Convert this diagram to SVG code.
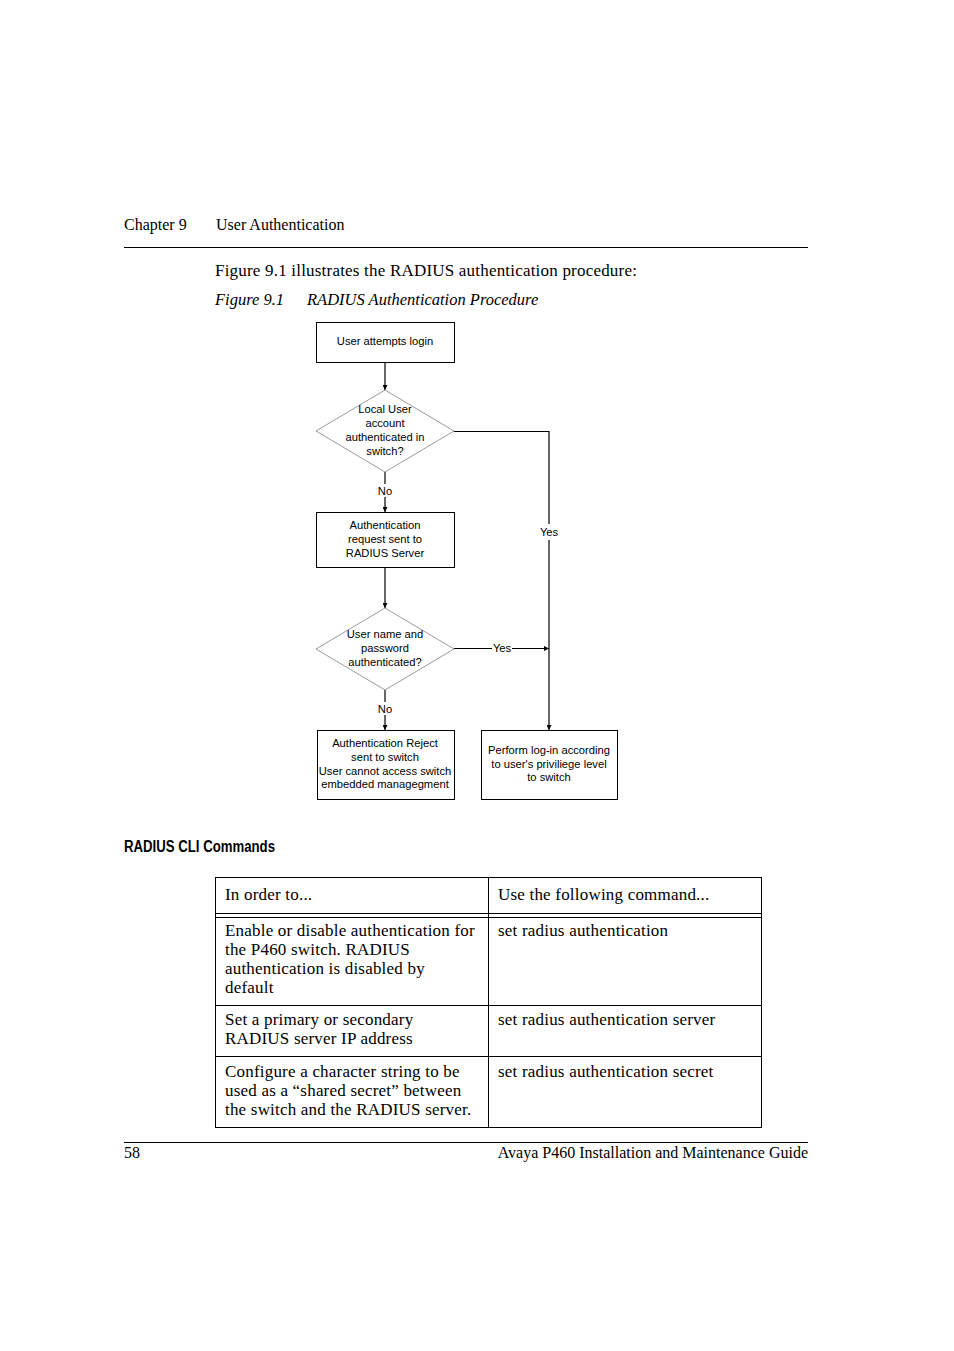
<svg xmlns="http://www.w3.org/2000/svg" width="954" height="1351" viewBox="0 0 954 1351">
<style>
.serif{font-family:"Liberation Serif",serif;font-size:17px;letter-spacing:0.2px;fill:#000}
.it{font-style:italic;font-size:16.5px;letter-spacing:0}
.hf{font-size:16px;letter-spacing:0}
.fc{font-family:"Liberation Sans",Arial,sans-serif;font-size:11.2px;fill:#000;text-anchor:middle}
.box{fill:#fff;stroke:#000;stroke-width:1}
.dia{fill:#fff;stroke:#808080;stroke-width:0.8}
.conn{fill:none;stroke:#000;stroke-width:1.2}
.rule{stroke:#000;stroke-width:1}
.tbl{fill:none;stroke:#000;stroke-width:1}
.head{font-family:"Liberation Sans Narrow","Liberation Sans",Arial,sans-serif;font-weight:bold;font-size:16px;fill:#000}
</style>
<defs>
<marker id="arr" viewBox="0 0 10 10" refX="10" refY="5" markerWidth="5" markerHeight="5" orient="auto" markerUnits="userSpaceOnUse">
<path d="M0,0 L10,5 L0,10 z" fill="#000"/>
</marker>
</defs>
<rect width="954" height="1351" fill="#fff"/>

<g id="page-header">
<text class="serif hf" x="124" y="230">Chapter 9</text>
<text class="serif hf" x="216" y="230">User Authentication</text>
<line class="rule" x1="124" y1="247.5" x2="808" y2="247.5"/>
<text class="serif" x="215" y="276">Figure 9.1 illustrates the RADIUS authentication procedure:</text>
<text class="serif it" x="215" y="305">Figure 9.1</text>
<text class="serif it" x="307" y="305">RADIUS Authentication Procedure</text>
</g>

<g id="connectors">
<line class="conn" x1="385" y1="362" x2="385" y2="390" marker-end="url(#arr)"/>
<line class="conn" x1="385" y1="472" x2="385" y2="484"/>
<line class="conn" x1="385" y1="497" x2="385" y2="512" marker-end="url(#arr)"/>
<text class="fc" x="385" y="495">No</text>
<polyline class="conn" points="454,431.5 549,431.5 549,524"/>
<line class="conn" x1="549" y1="540" x2="549" y2="730" marker-end="url(#arr)"/>
<text class="fc" x="549" y="536">Yes</text>
<line class="conn" x1="385" y1="567" x2="385" y2="608" marker-end="url(#arr)"/>
<line class="conn" x1="454" y1="648.5" x2="492" y2="648.5"/>
<line class="conn" x1="512" y1="648.5" x2="549" y2="648.5" marker-end="url(#arr)"/>
<text class="fc" x="502" y="652">Yes</text>
<line class="conn" x1="385" y1="690" x2="385" y2="702"/>
<line class="conn" x1="385" y1="715" x2="385" y2="730" marker-end="url(#arr)"/>
<text class="fc" x="385" y="713">No</text>
</g>

<g id="n1">
<rect class="box" x="316.5" y="322.5" width="138" height="40"/>
<text class="fc" x="385" y="345">User attempts login</text>
</g>
<g id="n2">
<polygon class="dia" points="385,390 454,431 385,472 316,431"/>
<text class="fc" x="385" y="413">Local User</text>
<text class="fc" x="385" y="427">account</text>
<text class="fc" x="385" y="441">authenticated in</text>
<text class="fc" x="385" y="455">switch?</text>
</g>
<g id="n3">
<rect class="box" x="316.5" y="512.5" width="138" height="55"/>
<text class="fc" x="385" y="529">Authentication</text>
<text class="fc" x="385" y="543">request sent to</text>
<text class="fc" x="385" y="557">RADIUS Server</text>
</g>
<g id="n4">
<polygon class="dia" points="385,608 454,649 385,690 316,649"/>
<text class="fc" x="385" y="638">User name and</text>
<text class="fc" x="385" y="652">password</text>
<text class="fc" x="385" y="666">authenticated?</text>
</g>
<g id="n5">
<rect class="box" x="317.5" y="730.5" width="137" height="69"/>
<text class="fc" x="385" y="747">Authentication Reject</text>
<text class="fc" x="385" y="761">sent to switch</text>
<text class="fc" x="385" y="775">User cannot access switch</text>
<text class="fc" x="385" y="788">embedded managegment</text>
</g>
<g id="n6">
<rect class="box" x="481.5" y="730.5" width="136" height="69"/>
<text class="fc" x="549" y="754">Perform log-in according</text>
<text class="fc" x="549" y="768">to user's priviliege level</text>
<text class="fc" x="549" y="781">to switch</text>
</g>

<g id="table">
<text class="head" x="124" y="852" textLength="151" lengthAdjust="spacingAndGlyphs">RADIUS CLI Commands</text>
<rect class="tbl" x="215.5" y="877.5" width="546" height="250"/>
<line class="tbl" x1="488.5" y1="877.5" x2="488.5" y2="1127.5"/>
<line class="tbl" x1="215.5" y1="913.5" x2="761.5" y2="913.5"/>
<line class="tbl" x1="215.5" y1="917.5" x2="761.5" y2="917.5"/>
<line class="tbl" x1="215.5" y1="1005.5" x2="761.5" y2="1005.5"/>
<line class="tbl" x1="215.5" y1="1056.5" x2="761.5" y2="1056.5"/>
<text class="serif" x="225" y="900">In order to...</text>
<text class="serif" x="498" y="900">Use the following command...</text>
<text class="serif" x="225" y="936">Enable or disable authentication for</text>
<text class="serif" x="225" y="955">the P460 switch. RADIUS</text>
<text class="serif" x="225" y="974">authentication is disabled by</text>
<text class="serif" x="225" y="993">default</text>
<text class="serif" x="498" y="936">set radius authentication</text>
<text class="serif" x="225" y="1025">Set a primary or secondary</text>
<text class="serif" x="225" y="1044">RADIUS server IP address</text>
<text class="serif" x="498" y="1025">set radius authentication server</text>
<text class="serif" x="225" y="1077">Configure a character string to be</text>
<text class="serif" x="225" y="1096">used as a “shared secret” between</text>
<text class="serif" x="225" y="1115">the switch and the RADIUS server.</text>
<text class="serif" x="498" y="1077">set radius authentication secret</text>
</g>

<g id="page-footer">
<line class="rule" x1="124" y1="1142.5" x2="808" y2="1142.5"/>
<text class="serif hf" x="124" y="1158">58</text>
<text class="serif hf" x="808" y="1158" style="text-anchor:end">Avaya P460 Installation and Maintenance Guide</text>
</g>
</svg>
